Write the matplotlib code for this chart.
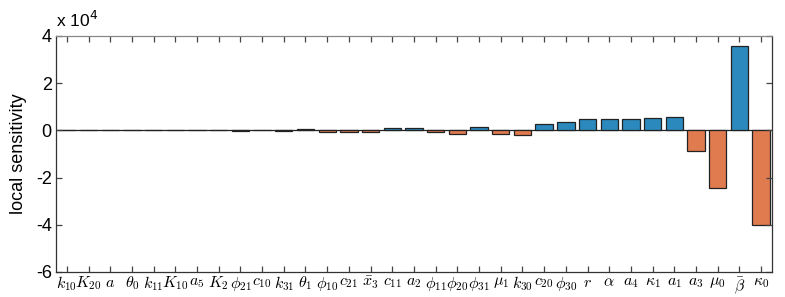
import matplotlib
matplotlib.use("Agg")
import matplotlib.pyplot as plt
import numpy as np

labels = [r"$k_{10}$", r"$K_{20}$", r"$a$", r"$\theta_0$", r"$k_{11}$", r"$K_{10}$",
          r"$a_5$", r"$K_2$", r"$\phi_{21}$", r"$c_{10}$", r"$k_{31}$", r"$\theta_1$",
          r"$\phi_{10}$", r"$c_{21}$", r"$\bar{x}_3$", r"$c_{11}$", r"$a_2$", r"$\phi_{11}$",
          r"$\phi_{20}$", r"$\phi_{31}$", r"$\mu_1$", r"$k_{30}$", r"$c_{20}$", r"$\phi_{30}$",
          r"$r$", r"$\alpha$", r"$a_4$", r"$\kappa_1$", r"$a_1$", r"$a_3$", r"$\mu_0$",
          r"$\bar{\beta}$", r"$\kappa_0$"]
values = [0.004, 0.005, 0.004, 0.005, 0.006, 0.008, 0.03, 0.03, -0.03, 0.02, -0.03, 0.05,
          -0.07, -0.07, -0.07, 0.09, 0.09, -0.08, -0.14, 0.14, -0.15, -0.18, 0.28, 0.34,
          0.47, 0.48, 0.48, 0.51, 0.58, -0.87, -2.45, 3.58, -4.0]

pos_color = "#2b89bd"
neg_color = "#e07a4f"

plt.rcParams['font.family'] = ['Liberation Sans', 'DejaVu Sans']
plt.rcParams['mathtext.fontset'] = 'cm'

fig = plt.figure(figsize=(7.85, 2.97), dpi=100)
ax = fig.add_axes([0.0713, 0.0842, 0.9121, 0.7946])

x = np.arange(1, len(values) + 1)
colors = [pos_color if v >= 0 else neg_color for v in values]
ax.bar(x, values, width=0.8, color=colors, edgecolor="#222222", linewidth=0.9)
ax.axhline(0, color="#222222", linewidth=0.9, zorder=0)

ax.set_xlim(0.5, len(values) + 0.5)
ax.set_ylim(-6, 4)
ax.set_xticks(x)
ax.set_xticklabels(labels, fontsize=11.5)
ax.set_yticks([-6, -4, -2, 0, 2, 4])
ax.set_yticklabels(["-6", "-4", "-2", "0", "2", "4"], fontsize=13)
ax.tick_params(axis='both', direction='in', length=4, width=0.9, color="#444444",
               top=True, right=True)
ax.tick_params(axis='x', pad=2)
ax.tick_params(axis='y', pad=3)
for s in ax.spines.values():
    s.set_color("#333333")
    s.set_linewidth(0.9)
ax.spines['top'].set_color("#888888")

ax.set_ylabel("local sensitivity", fontsize=13, labelpad=6)
ax.text(0.0, 1.025, r"x 10$^{4}$", transform=ax.transAxes, fontsize=12.5,
        ha='left', va='bottom', math_fontfamily='dejavusans')

fig.savefig("out.png", dpi=100)
